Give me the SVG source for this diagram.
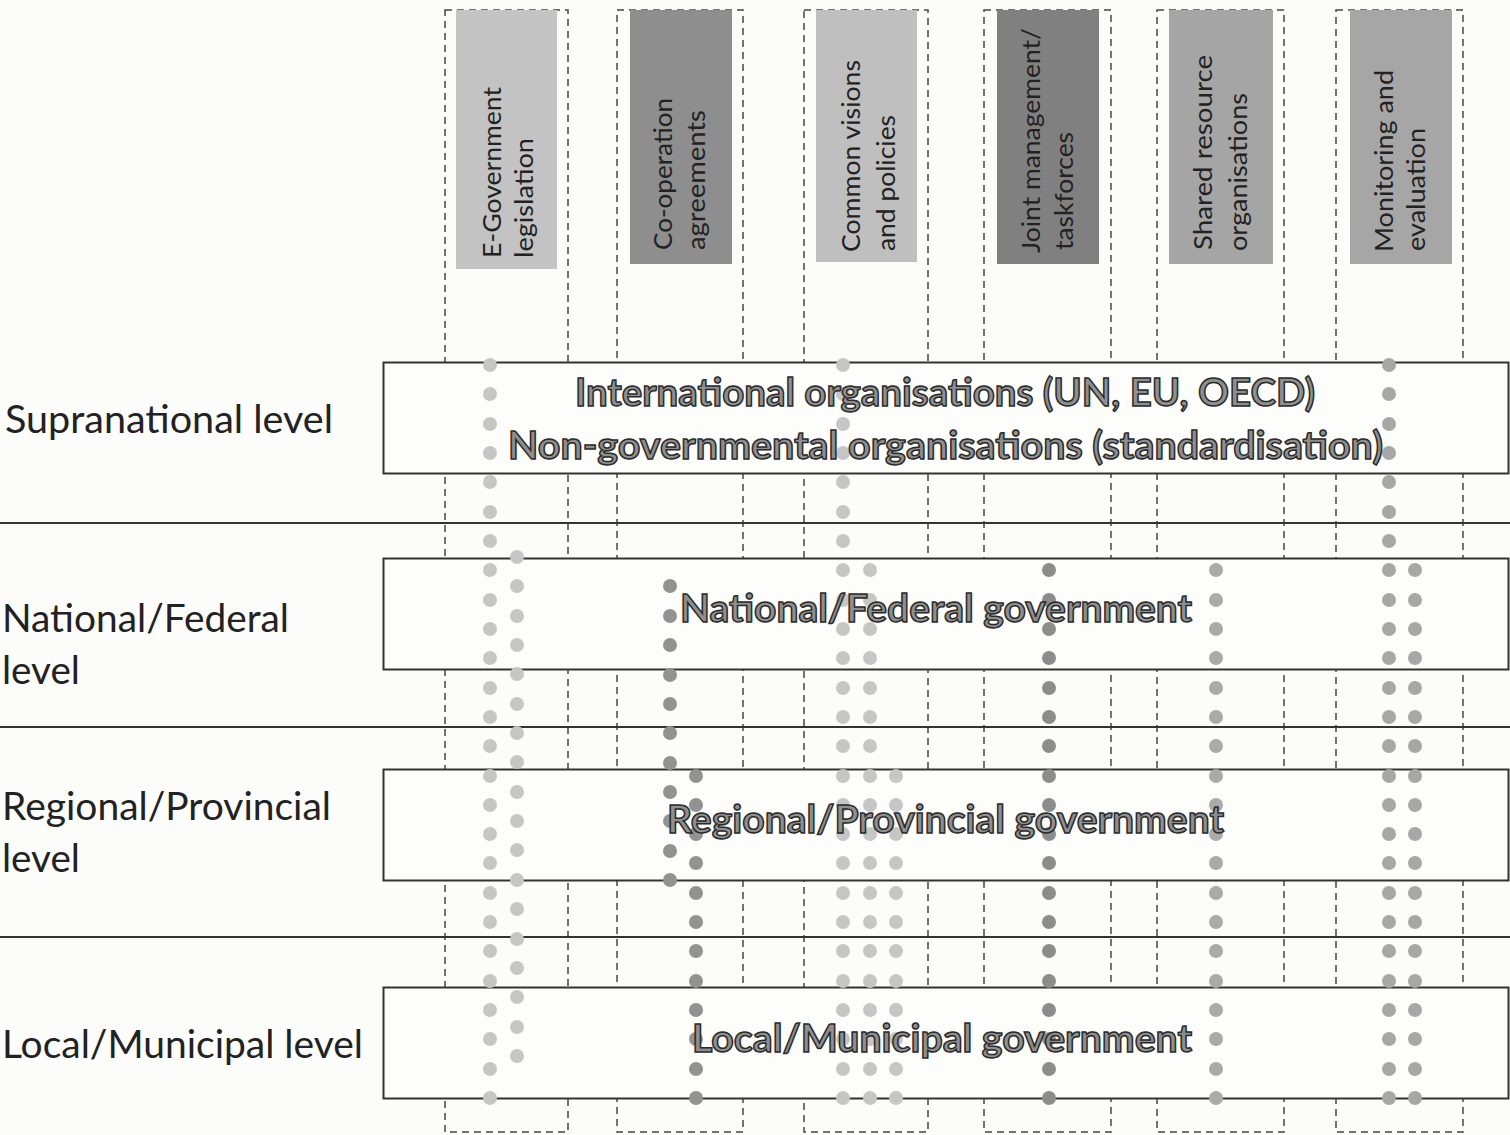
<svg xmlns="http://www.w3.org/2000/svg" width="1510" height="1135" viewBox="0 0 1510 1135">
<style>
.col{fill:none;stroke:#444;stroke-width:1.5;stroke-dasharray:7 5}
.sep{stroke:#333;stroke-width:2}
.lvl{fill:#fdfdfb;stroke:#333;stroke-width:2}
.ht{font-family:Lato,"Liberation Sans",sans-serif;font-size:25px;fill:#222}
.bt{font-family:Lato,"Liberation Sans",sans-serif;font-weight:700;font-size:39px;fill:#8f8f8f;stroke:#2a2a2a;stroke-width:1.5}
.lt{font-family:Lato,"Liberation Sans",sans-serif;font-size:38px;fill:#222}
.d1{fill:#c6c6c6}.d2{fill:#929292}.d3{fill:#8c8c8c}.d4{fill:#aaaaaa}.d5{fill:#a7a7a7}
</style>
<rect width="1510" height="1135" fill="#fcfcfa"/>
<g id="columns">
<rect class="col" x="445" y="10" width="123" height="1122"/>
<rect class="col" x="617" y="10" width="126" height="1122"/>
<rect class="col" x="804" y="10" width="124" height="1122"/>
<rect class="col" x="984" y="10" width="127" height="1122"/>
<rect class="col" x="1157" y="10" width="127" height="1122"/>
<rect class="col" x="1336" y="10" width="127" height="1122"/>
</g>
<g id="separators">
<line class="sep" x1="0" y1="523" x2="1510" y2="523"/>
<line class="sep" x1="0" y1="727" x2="1510" y2="727"/>
<line class="sep" x1="0" y1="937" x2="1510" y2="937"/>
</g>
<g id="h1"><rect x="456" y="10" width="101" height="259" fill="#c3c3c3"/>
<text class="ht" transform="translate(501,258) rotate(-90)" textLength="171" lengthAdjust="spacingAndGlyphs">E-Government</text>
<text class="ht" transform="translate(533,258) rotate(-90)" textLength="120" lengthAdjust="spacingAndGlyphs">legislation</text></g>
<g id="h2"><rect x="630" y="10" width="102" height="254" fill="#8e8e8e"/>
<text class="ht" transform="translate(672,250) rotate(-90)" textLength="152" lengthAdjust="spacingAndGlyphs">Co-operation</text>
<text class="ht" transform="translate(705,250) rotate(-90)" textLength="140" lengthAdjust="spacingAndGlyphs">agreements</text></g>
<g id="h3"><rect x="816" y="10" width="101" height="252" fill="#bfbfbf"/>
<text class="ht" transform="translate(860,252) rotate(-90)" textLength="192" lengthAdjust="spacingAndGlyphs">Common visions</text>
<text class="ht" transform="translate(895,251) rotate(-90)" textLength="136" lengthAdjust="spacingAndGlyphs">and policies</text></g>
<g id="h4"><rect x="997" y="10" width="102" height="254" fill="#808080"/>
<text class="ht" transform="translate(1040,253) rotate(-90)" textLength="225" lengthAdjust="spacingAndGlyphs">Joint management/</text>
<text class="ht" transform="translate(1073,250) rotate(-90)" textLength="118" lengthAdjust="spacingAndGlyphs">taskforces</text></g>
<g id="h5"><rect x="1169" y="10" width="104" height="254" fill="#a5a5a5"/>
<text class="ht" transform="translate(1212,250) rotate(-90)" textLength="195" lengthAdjust="spacingAndGlyphs">Shared resource</text>
<text class="ht" transform="translate(1247,251) rotate(-90)" textLength="158" lengthAdjust="spacingAndGlyphs">organisations</text></g>
<g id="h6"><rect x="1350" y="10" width="102" height="254" fill="#a6a6a6"/>
<text class="ht" transform="translate(1393,252) rotate(-90)" textLength="182" lengthAdjust="spacingAndGlyphs">Monitoring and</text>
<text class="ht" transform="translate(1425,251) rotate(-90)" textLength="123" lengthAdjust="spacingAndGlyphs">evaluation</text></g>
<g id="box-supra"><rect class="lvl" x="383.5" y="362.5" width="1125" height="111"/></g>
<g id="box-national"><rect class="lvl" x="383.5" y="558.5" width="1125" height="111"/></g>
<g id="box-regional"><rect class="lvl" x="383.5" y="769.5" width="1125" height="111"/></g>
<g id="box-local"><rect class="lvl" x="383.5" y="987.5" width="1125" height="111"/></g>
<g id="connectors">
<g class="d1">
<circle cx="490" cy="365" r="7"/><circle cx="490" cy="394" r="7"/><circle cx="490" cy="424" r="7"/><circle cx="490" cy="453" r="7"/><circle cx="490" cy="482" r="7"/><circle cx="490" cy="512" r="7"/><circle cx="490" cy="541" r="7"/><circle cx="490" cy="570" r="7"/><circle cx="490" cy="600" r="7"/><circle cx="490" cy="629" r="7"/><circle cx="490" cy="658" r="7"/><circle cx="490" cy="688" r="7"/><circle cx="490" cy="717" r="7"/><circle cx="490" cy="746" r="7"/><circle cx="490" cy="776" r="7"/><circle cx="490" cy="805" r="7"/><circle cx="490" cy="834" r="7"/><circle cx="490" cy="863" r="7"/><circle cx="490" cy="893" r="7"/><circle cx="490" cy="922" r="7"/><circle cx="490" cy="951" r="7"/><circle cx="490" cy="981" r="7"/><circle cx="490" cy="1010" r="7"/><circle cx="490" cy="1039" r="7"/><circle cx="490" cy="1069" r="7"/><circle cx="490" cy="1098" r="7"/>
<circle cx="517" cy="557" r="7"/><circle cx="517" cy="586" r="7"/><circle cx="517" cy="616" r="7"/><circle cx="517" cy="645" r="7"/><circle cx="517" cy="674" r="7"/><circle cx="517" cy="704" r="7"/><circle cx="517" cy="733" r="7"/><circle cx="517" cy="762" r="7"/><circle cx="517" cy="792" r="7"/><circle cx="517" cy="821" r="7"/><circle cx="517" cy="850" r="7"/><circle cx="517" cy="880" r="7"/><circle cx="517" cy="909" r="7"/><circle cx="517" cy="939" r="7"/><circle cx="517" cy="968" r="7"/><circle cx="517" cy="997" r="7"/><circle cx="517" cy="1027" r="7"/><circle cx="517" cy="1056" r="7"/>
<circle cx="843" cy="365" r="7"/><circle cx="843" cy="394" r="7"/><circle cx="843" cy="424" r="7"/><circle cx="843" cy="453" r="7"/><circle cx="843" cy="482" r="7"/><circle cx="843" cy="512" r="7"/><circle cx="843" cy="541" r="7"/><circle cx="843" cy="570" r="7"/><circle cx="843" cy="600" r="7"/><circle cx="843" cy="629" r="7"/><circle cx="843" cy="658" r="7"/><circle cx="843" cy="688" r="7"/><circle cx="843" cy="717" r="7"/><circle cx="843" cy="746" r="7"/><circle cx="843" cy="776" r="7"/><circle cx="843" cy="805" r="7"/><circle cx="843" cy="834" r="7"/><circle cx="843" cy="863" r="7"/><circle cx="843" cy="893" r="7"/><circle cx="843" cy="922" r="7"/><circle cx="843" cy="951" r="7"/><circle cx="843" cy="981" r="7"/><circle cx="843" cy="1010" r="7"/><circle cx="843" cy="1039" r="7"/><circle cx="843" cy="1069" r="7"/><circle cx="843" cy="1098" r="7"/>
<circle cx="870" cy="570" r="7"/><circle cx="870" cy="600" r="7"/><circle cx="870" cy="629" r="7"/><circle cx="870" cy="658" r="7"/><circle cx="870" cy="688" r="7"/><circle cx="870" cy="717" r="7"/><circle cx="870" cy="746" r="7"/><circle cx="870" cy="776" r="7"/><circle cx="870" cy="805" r="7"/><circle cx="870" cy="834" r="7"/><circle cx="870" cy="863" r="7"/><circle cx="870" cy="893" r="7"/><circle cx="870" cy="922" r="7"/><circle cx="870" cy="951" r="7"/><circle cx="870" cy="981" r="7"/><circle cx="870" cy="1010" r="7"/><circle cx="870" cy="1039" r="7"/><circle cx="870" cy="1069" r="7"/><circle cx="870" cy="1098" r="7"/>
<circle cx="896" cy="776" r="7"/><circle cx="896" cy="805" r="7"/><circle cx="896" cy="834" r="7"/><circle cx="896" cy="863" r="7"/><circle cx="896" cy="893" r="7"/><circle cx="896" cy="922" r="7"/><circle cx="896" cy="951" r="7"/><circle cx="896" cy="981" r="7"/><circle cx="896" cy="1010" r="7"/><circle cx="896" cy="1039" r="7"/><circle cx="896" cy="1069" r="7"/><circle cx="896" cy="1098" r="7"/>
</g>
<g class="d2">
<circle cx="670" cy="586" r="7"/><circle cx="670" cy="616" r="7"/><circle cx="670" cy="645" r="7"/><circle cx="670" cy="675" r="7"/><circle cx="670" cy="704" r="7"/><circle cx="670" cy="733" r="7"/><circle cx="670" cy="763" r="7"/><circle cx="670" cy="792" r="7"/><circle cx="670" cy="821" r="7"/><circle cx="670" cy="851" r="7"/><circle cx="670" cy="880" r="7"/>
<circle cx="696" cy="776" r="7"/><circle cx="696" cy="805" r="7"/><circle cx="696" cy="834" r="7"/><circle cx="696" cy="863" r="7"/><circle cx="696" cy="893" r="7"/><circle cx="696" cy="922" r="7"/><circle cx="696" cy="951" r="7"/><circle cx="696" cy="981" r="7"/><circle cx="696" cy="1010" r="7"/><circle cx="696" cy="1039" r="7"/><circle cx="696" cy="1069" r="7"/><circle cx="696" cy="1098" r="7"/>
</g>
<g class="d3">
<circle cx="1049" cy="570" r="7"/><circle cx="1049" cy="600" r="7"/><circle cx="1049" cy="629" r="7"/><circle cx="1049" cy="658" r="7"/><circle cx="1049" cy="688" r="7"/><circle cx="1049" cy="717" r="7"/><circle cx="1049" cy="746" r="7"/><circle cx="1049" cy="776" r="7"/><circle cx="1049" cy="805" r="7"/><circle cx="1049" cy="834" r="7"/><circle cx="1049" cy="863" r="7"/><circle cx="1049" cy="893" r="7"/><circle cx="1049" cy="922" r="7"/><circle cx="1049" cy="951" r="7"/><circle cx="1049" cy="981" r="7"/><circle cx="1049" cy="1010" r="7"/><circle cx="1049" cy="1039" r="7"/><circle cx="1049" cy="1069" r="7"/><circle cx="1049" cy="1098" r="7"/>
</g>
<g class="d4">
<circle cx="1216" cy="570" r="7"/><circle cx="1216" cy="600" r="7"/><circle cx="1216" cy="629" r="7"/><circle cx="1216" cy="658" r="7"/><circle cx="1216" cy="688" r="7"/><circle cx="1216" cy="717" r="7"/><circle cx="1216" cy="746" r="7"/><circle cx="1216" cy="776" r="7"/><circle cx="1216" cy="805" r="7"/><circle cx="1216" cy="834" r="7"/><circle cx="1216" cy="863" r="7"/><circle cx="1216" cy="893" r="7"/><circle cx="1216" cy="922" r="7"/><circle cx="1216" cy="951" r="7"/><circle cx="1216" cy="981" r="7"/><circle cx="1216" cy="1010" r="7"/><circle cx="1216" cy="1039" r="7"/><circle cx="1216" cy="1069" r="7"/><circle cx="1216" cy="1098" r="7"/>
</g>
<g class="d5">
<circle cx="1389" cy="365" r="7"/><circle cx="1389" cy="394" r="7"/><circle cx="1389" cy="424" r="7"/><circle cx="1389" cy="453" r="7"/><circle cx="1389" cy="482" r="7"/><circle cx="1389" cy="512" r="7"/><circle cx="1389" cy="541" r="7"/><circle cx="1389" cy="570" r="7"/><circle cx="1389" cy="600" r="7"/><circle cx="1389" cy="629" r="7"/><circle cx="1389" cy="658" r="7"/><circle cx="1389" cy="688" r="7"/><circle cx="1389" cy="717" r="7"/><circle cx="1389" cy="746" r="7"/><circle cx="1389" cy="776" r="7"/><circle cx="1389" cy="805" r="7"/><circle cx="1389" cy="834" r="7"/><circle cx="1389" cy="863" r="7"/><circle cx="1389" cy="893" r="7"/><circle cx="1389" cy="922" r="7"/><circle cx="1389" cy="951" r="7"/><circle cx="1389" cy="981" r="7"/><circle cx="1389" cy="1010" r="7"/><circle cx="1389" cy="1039" r="7"/><circle cx="1389" cy="1069" r="7"/><circle cx="1389" cy="1098" r="7"/>
<circle cx="1415" cy="570" r="7"/><circle cx="1415" cy="600" r="7"/><circle cx="1415" cy="629" r="7"/><circle cx="1415" cy="658" r="7"/><circle cx="1415" cy="688" r="7"/><circle cx="1415" cy="717" r="7"/><circle cx="1415" cy="746" r="7"/><circle cx="1415" cy="776" r="7"/><circle cx="1415" cy="805" r="7"/><circle cx="1415" cy="834" r="7"/><circle cx="1415" cy="863" r="7"/><circle cx="1415" cy="893" r="7"/><circle cx="1415" cy="922" r="7"/><circle cx="1415" cy="951" r="7"/><circle cx="1415" cy="981" r="7"/><circle cx="1415" cy="1010" r="7"/><circle cx="1415" cy="1039" r="7"/><circle cx="1415" cy="1069" r="7"/><circle cx="1415" cy="1098" r="7"/>
</g>
</g>
<g id="text-supra">
<text class="bt" x="575" y="406" textLength="740" lengthAdjust="spacingAndGlyphs">International organisations (UN, EU, OECD)</text>
<text class="bt" x="508" y="459" textLength="875" lengthAdjust="spacingAndGlyphs">Non-governmental organisations (standardisation)</text>
</g>
<g id="text-national"><text class="bt" x="680" y="622" textLength="512" lengthAdjust="spacingAndGlyphs">National/Federal government</text></g>
<g id="text-regional"><text class="bt" x="667" y="833" textLength="557" lengthAdjust="spacingAndGlyphs">Regional/Provincial government</text></g>
<g id="text-local"><text class="bt" x="692" y="1052" textLength="500" lengthAdjust="spacingAndGlyphs">Local/Municipal government</text></g>
<g id="label-supra"><text class="lt" x="5" y="433" textLength="328" lengthAdjust="spacingAndGlyphs">Supranational level</text></g>
<g id="label-national"><text class="lt" x="2" y="632" textLength="287" lengthAdjust="spacingAndGlyphs">National/Federal</text>
<text class="lt" x="2" y="684" textLength="78" lengthAdjust="spacingAndGlyphs">level</text></g>
<g id="label-regional"><text class="lt" x="2" y="820" textLength="329" lengthAdjust="spacingAndGlyphs">Regional/Provincial</text>
<text class="lt" x="2" y="872" textLength="78" lengthAdjust="spacingAndGlyphs">level</text></g>
<g id="label-local"><text class="lt" x="2" y="1058" textLength="361" lengthAdjust="spacingAndGlyphs">Local/Municipal level</text></g>
</svg>
